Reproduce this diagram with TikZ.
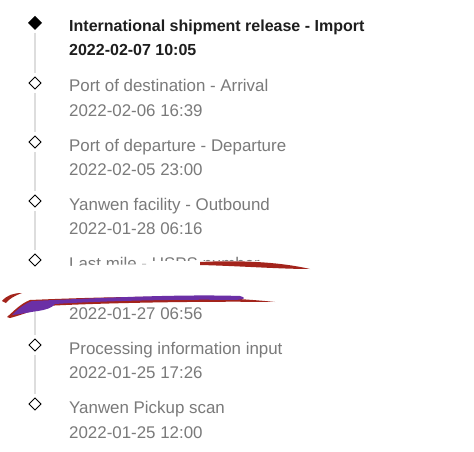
\documentclass[tikz,border=0pt]{standalone}
\usepackage{fontspec}
\setmainfont{Liberation Sans}
\usetikzlibrary{calc}
\definecolor{darktxt}{HTML}{1E1E1E}
\definecolor{graytxt}{HTML}{7A7A7A}
\definecolor{railgray}{HTML}{DDDDDD}
\definecolor{scribred}{HTML}{A3241C}
\definecolor{scribpurple}{HTML}{6B2FA6}
\begin{document}
\begin{tikzpicture}[x=1pt,y=-1pt,
  evt/.style={anchor=base west,inner sep=0pt,font=\fontsize{16.9}{20}\selectfont,text=graytxt},
  evtfirst/.style={evt,text=darktxt,font=\fontsize{16}{19}\selectfont\bfseries},
  rail/.style={draw=railgray,line width=1.6pt}]
\useasboundingbox (0,0) rectangle (474,452);
\fill[white] (0,0) rectangle (474,452);
% diamonds
\coordinate (d1) at (35,23);
\coordinate (d2) at (35,83);
\coordinate (d3) at (35,142);
\coordinate (d4) at (35,201);
\coordinate (d5) at (35,260);
\coordinate (d6) at (35,345);
\coordinate (d7) at (35,404);
% rails
\foreach \a/\b in {d1/d2,d2/d3,d3/d4,d4/d5,d5/d6,d6/d7}{
  \draw[rail] ($(\a)+(0,10)$) -- ($(\b)+(0,-10)$);
}
\fill[black] ($(d1)+(0,-7)$) -- ($(d1)+(7,0)$) -- ($(d1)+(0,7)$) -- ($(d1)+(-7,0)$) -- cycle;
\foreach \d in {d2,d3,d4,d5,d6,d7}{
  \draw[black,line width=1pt,fill=white] ($(\d)+(0,-6)$) -- ($(\d)+(6,0)$) -- ($(\d)+(0,6)$) -- ($(\d)+(-6,0)$) -- cycle;
}
% texts
\node[evtfirst] (t1) at (69,32) {International shipment release - Import};
\node[evtfirst] (s1) at (69,56) {2022-02-07 10:05};
\node[evt] (t2) at (69,92) {Port of destination - Arrival};
\node[evt] (s2) at (69,116) {2022-02-06 16:39};
\node[evt] (t3) at (69,151) {Port of departure - Departure};
\node[evt] (s3) at (69,175) {2022-02-05 23:00};
\node[evt] (t4) at (69,210) {Yanwen facility - Outbound};
\node[evt] (s4) at (69,234) {2022-01-28 06:16};
\node[evt] (t5) at (69,269) {Last mile - USPS number};
\node[evt] (s5) at (69,319) {2022-01-27 06:56};
\node[evt] (t6) at (69,354) {Processing information input};
\node[evt] (s6) at (69,378) {2022-01-25 17:26};
\node[evt] (t7) at (69,413) {Yanwen Pickup scan};
\node[evt] (s7) at (69,438) {2022-01-25 12:00};
% scribble: white-out
\fill[white] (0,270) .. controls (100,262) and (250,262) .. (370,272) -- (370,300) .. controls (250,302) and (100,303) .. (0,301) -- cycle;
\fill[white] (150,261) rectangle (305,268);
\fill[scribred] (200,262) .. controls (240,260) and (280,262) .. (310,269) .. controls (280,269) and (240,266) .. (200,265) -- cycle;
\fill[scribred] (2,301) .. controls (7,295) and (14,293) .. (22,293) .. controls (14,296) and (9,299) .. (6,303) -- cycle;
\fill[scribred] (7,317) .. controls (14,311) and (20,304) .. (30,300) .. controls (100,297) and (200,294) .. (275,302) .. controls (200,301) and (100,303) .. (45,306) .. controls (32,311) and (18,316) .. (10,318) -- cycle;
\fill[scribpurple] (12,315) .. controls (18,309) and (24,304) .. (32,301) .. controls (100,298) and (180,294) .. (240,296) .. controls (246,298) and (246,299) .. (236,300) .. controls (180,299) and (100,301) .. (55,304) .. controls (52,308) and (45,310) .. (38,311) .. controls (30,312) and (22,314) .. (12,315) -- cycle;
\end{tikzpicture}
\end{document}
